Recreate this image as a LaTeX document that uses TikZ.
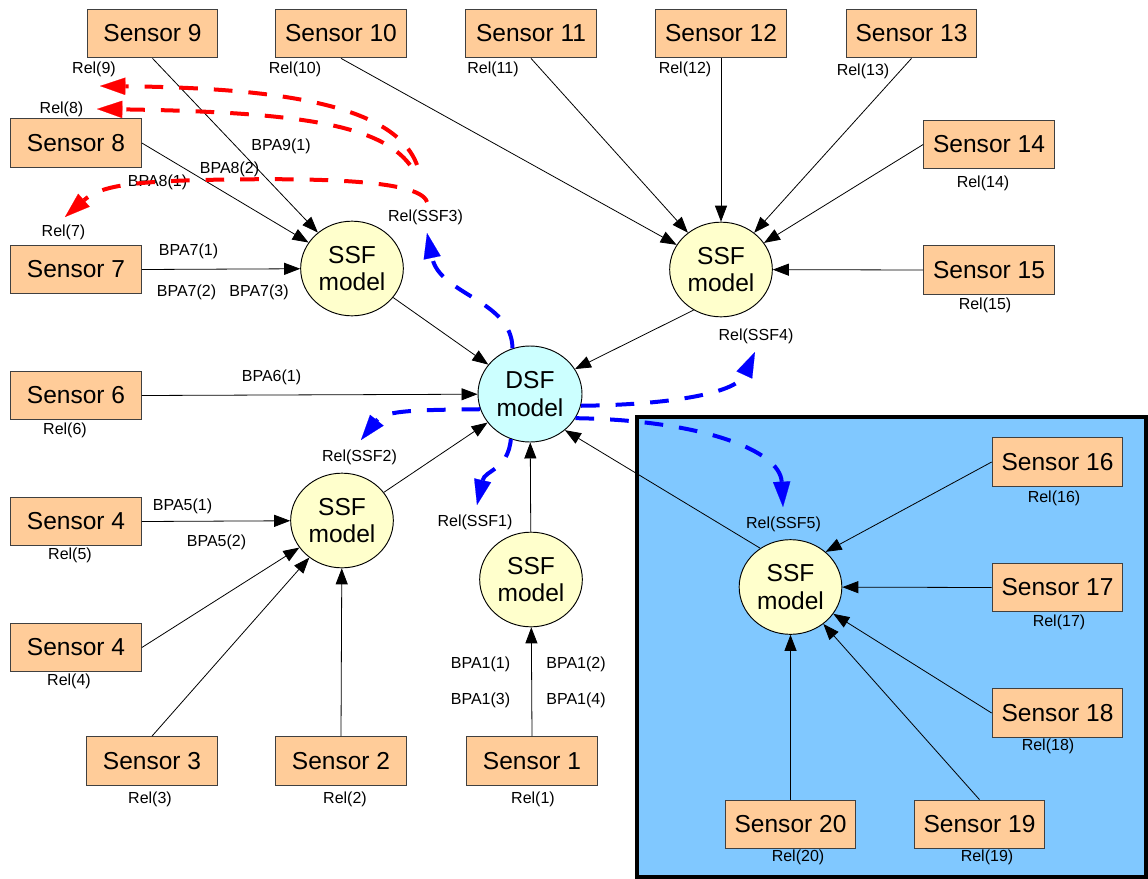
\documentclass[tikz,border=0pt]{standalone}
\usepackage{fontspec}
\setmainfont{Liberation Sans}
\usetikzlibrary{
  arrows.meta,
  shapes.geometric,
}
\definecolor{sensorfill}{RGB}{255, 204, 153}
\definecolor{ssffill}{RGB}{255, 255, 204}
\definecolor{dsffill}{RGB}{204, 255, 255}
\definecolor{zonefill}{RGB}{128, 200, 255}
\tikzstyle{sensor} = [
  draw=black!75,
  fill=sensorfill,
  line width=0.8pt,
  minimum width=98pt,
  minimum height=36.5pt,
  inner sep=0pt,
  font=\fontsize{18.4}{21}\selectfont,
]
\tikzstyle{ssf} = [
  ellipse,
  draw,
  fill=ssffill,
  line width=0.7pt,
  minimum width=77pt,
  minimum height=71pt,
  inner sep=0pt,
  align=center,
  font=\fontsize{18.4}{20.5}\selectfont,
]
\tikzstyle{dsfnode} = [ssf, fill=dsffill, minimum width=78pt, minimum height=72pt]
\tikzstyle{small} = [inner sep=1pt, font=\fontsize{12}{14}\selectfont]
\tikzstyle{link} = [-{Triangle[length=12pt,width=9pt]}, line width=0.6pt]
\tikzstyle{feedback} = [
  -{Triangle[length=19pt,width=13pt,line width=0.1pt]},
  line width=3pt,
  dash pattern=on 14pt off 12pt,
]

\begin{document}
\begin{tikzpicture}[x=0.75pt, y=-0.75pt]

        \useasboundingbox (0,0) rectangle (1148,878);

        \draw [fill=zonefill, line width=2.5pt] (637,417) rectangle (1146,877);

        \foreach \nm/\txt/\x/\y in {s1/1/532/761, s2/2/341/761, s3/3/152/761,
            s4/4/76/647.5, s5/4/76/521.5, s6/6/76/395.5, s7/7/76/269.5, s8/8/76/143,
            s9/9/152.5/33.5, s10/10/341/33.5, s11/11/531/33.5, s12/12/721/33.5,
            s13/13/911.5/33.5, s14/14/989/144.5, s15/15/989/270,
            s16/16/1057.5/462, s17/17/1057.5/587.5, s18/18/1057.5/713,
            s19/19/979.5/824.5, s20/20/790.5/824.5} {
          \node [sensor] (\nm) at (\x,\y) {Sensor \txt};
        }

        \node [ssf] (ssf1) at (531,579.5) {SSF\\model};
        \node [ssf] (ssf2) at (342,520.5) {SSF\\model};
        \node [ssf] (ssf3) at (352,268.5) {SSF\\model};
        \node [ssf] (ssf4) at (721,269.5) {SSF\\model};
        \node [ssf] (ssf5) at (790.5,587) {SSF\\model};
        \node [dsfnode] (dsf) at (530,394) {DSF\\model};

        \foreach \nm/\txt/\x/\y in {rel1/1/533/799, rel2/2/345/799, rel3/3/150/799,
            rel4/4/69/681, rel5/5/70/555, rel6/6/65/430, rel7/7/63.5/232,
            rel8/8/61.5/109, rel9/9/94/69, rel10/10/295/69, rel11/11/493/69,
            rel12/12/685/69, rel13/13/863/71, rel14/14/983/183, rel15/15/985/305,
            rel16/16/1054/498, rel17/17/1059/622, rel18/18/1048/746,
            rel19/19/987/857, rel20/20/798/857,
            relssf1/SSF1/475/522, relssf2/SSF2/359.5/457, relssf3/SSF3/425.5/217,
            relssf4/SSF4/756/336, relssf5/SSF5/783.5/524} {
          \node [small] (\nm) at (\x,\y) {Rel(\txt)};
        }

        \foreach \nm/\txt/\x/\y in {bpa91/9(1)/281/146, bpa82/8(2)/229.5/169,
            bpa81/8(1)/157.5/182, bpa71/7(1)/188.5/251, bpa72/7(2)/186.5/292,
            bpa73/7(3)/259/292, bpa61/6(1)/271.5/377, bpa51/5(1)/182.5/506,
            bpa52/5(2)/216.5/542, bpa11/1(1)/480.5/664, bpa12/1(2)/576/664,
            bpa13/1(3)/480.5/700.5, bpa14/1(4)/576/700.5} {
          \node [small] (\nm) at (\x,\y) {BPA\txt};
        }

        \foreach \a/\b in {s9.south/ssf3, s8.east/ssf3, s7.east/ssf3,
            s10.south/ssf4, s11.south/ssf4, s12.south/ssf4, s13.south/ssf4,
            s14.west/ssf4, s15.west/ssf4,
            s5.east/ssf2, s4.east/ssf2, s3.north/ssf2, s2.north/ssf2,
            s1.north/ssf1,
            s16.west/ssf5.45, s17.west/ssf5, s18.west/ssf5, s19.north/ssf5,
            s20.north/ssf5,
            ssf3/dsf, ssf4.236/dsf.29, s6.east/dsf, ssf2/dsf, ssf1/dsf,
            ssf5.128/dsf.-46} {
          \draw [link] (\a) -- (\b);
        }

        \coordinate (tip1) at (477,505);
        \coordinate (tip2) at (361,440);
        \coordinate (tip3) at (427,233);
        \coordinate (tip4) at (755,352);
        \coordinate (tip5) at (783,507);

        \draw [feedback, blue] (dsf.111) .. controls (512,300) and (440,295) .. (tip3);
        \draw [feedback, blue] (dsf.197) .. controls (420,410) and (385,410) .. (tip2);
        \draw [feedback, blue] (dsf.247) .. controls (508,470) and (485,470) .. (tip1);
        \draw [feedback, blue] (dsf.-13) .. controls (660,405) and (735,395) .. (tip4);
        \draw [feedback, blue] (dsf.-28) .. controls (700,420) and (780,450) .. (tip5);

        \coordinate (back9) at (417,165);
        \coordinate (back8) at (410,165);
        \coordinate (back7) at (427,202);
        \coordinate (tip9) at (100,86);
        \coordinate (tip8) at (97,109);
        \coordinate (tip7) at (65,217);

        \draw [feedback, red] (back9) .. controls (395,105) and (280,88) .. (tip9);
        \draw [feedback, red] (back8) .. controls (380,125) and (300,112) .. (tip8);
        \draw [feedback, red] (back7) .. controls (420,178) and (300,178) .. (200,180)
              .. controls (130,182) and (100,186) .. (tip7);

\end{tikzpicture}
\end{document}
